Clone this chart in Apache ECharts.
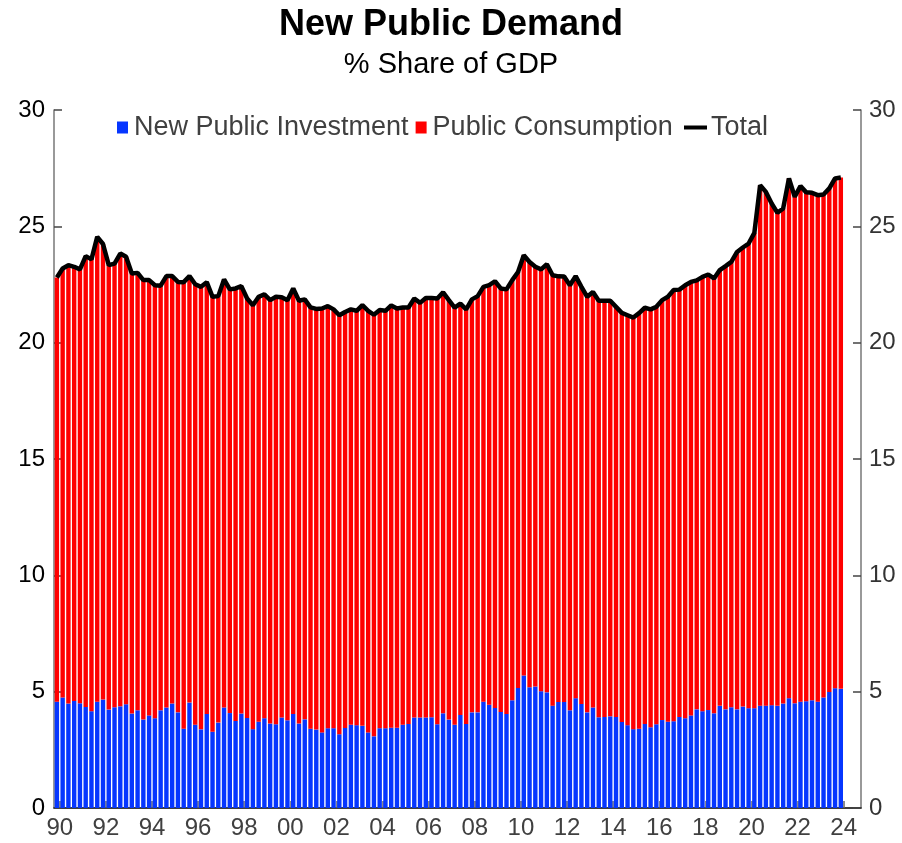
<!DOCTYPE html>
<html>
<head>
<meta charset="utf-8">
<script src="https://cdn.jsdelivr.net/npm/echarts@6/dist/echarts.min.js"></script>
<style>
  html, body { margin: 0; padding: 0; background: #fff; }
  #chart { width: 902px; height: 843px; }
</style>
</head>
<body>
<div id="chart"></div>
<script>
// quarterly data, first bar 1989Q4, last bar 2023Q4
const firstYear = 1989
const firstQuarter = 4
const slots = 140 // axis runs on to 2024Q3

// New public investment, % of GDP
const investment = [
  4.57, 4.75, 4.49, 4.60, 4.50, 4.34, 4.16, 4.57, 4.66, 4.23,
  4.33, 4.37, 4.46, 4.06, 4.20, 3.80, 3.98, 3.86, 4.20, 4.32,
  4.49, 4.11, 3.41, 4.53, 3.58, 3.38, 4.04, 3.28, 3.67, 4.32,
  4.08, 3.74, 4.06, 3.87, 3.39, 3.71, 3.86, 3.63, 3.60, 3.89,
  3.77, 4.04, 3.63, 3.81, 3.41, 3.37, 3.25, 3.43, 3.43, 3.17,
  3.44, 3.58, 3.56, 3.53, 3.25, 3.08, 3.43, 3.43, 3.45, 3.45,
  3.58, 3.61, 3.89, 3.89, 3.89, 3.90, 3.60, 4.07, 3.80, 3.58,
  4.00, 3.61, 4.11, 4.11, 4.57, 4.44, 4.30, 4.13, 4.04, 4.63,
  5.16, 5.70, 5.19, 5.22, 5.02, 4.97, 4.40, 4.56, 4.56, 4.20,
  4.72, 4.47, 4.11, 4.32, 3.90, 3.91, 3.94, 3.91, 3.70, 3.56,
  3.39, 3.41, 3.61, 3.47, 3.60, 3.78, 3.71, 3.73, 3.91, 3.86,
  3.98, 4.24, 4.16, 4.21, 4.07, 4.39, 4.24, 4.33, 4.24, 4.36,
  4.29, 4.29, 4.40, 4.40, 4.42, 4.39, 4.49, 4.72, 4.50, 4.57,
  4.59, 4.63, 4.57, 4.75, 4.99, 5.15, 5.12
]

// Public consumption, % of GDP
const consumption = [
  18.23, 18.44, 18.84, 18.66, 18.65, 19.38, 19.42, 19.98, 19.58, 19.10,
  19.07, 19.46, 19.23, 18.91, 18.80, 18.89, 18.71, 18.61, 18.25, 18.54,
  18.37, 18.50, 19.19, 18.33, 18.93, 19.02, 18.56, 18.69, 18.33, 18.40,
  18.21, 18.59, 18.37, 18.03, 18.22, 18.26, 18.22, 18.20, 18.37, 18.06,
  18.05, 18.29, 18.17, 18.05, 18.11, 18.08, 18.22, 18.14, 18.00, 18.01,
  17.88, 17.85, 17.81, 18.08, 18.12, 18.12, 17.97, 17.94, 18.15, 18.02,
  17.93, 17.90, 18.01, 17.82, 18.03, 18.02, 18.30, 18.09, 18.03, 17.93,
  17.68, 17.82, 17.75, 17.89, 17.83, 18.03, 18.34, 18.20, 18.25, 18.06,
  17.88, 18.06, 18.28, 18.04, 18.13, 18.40, 18.50, 18.29, 18.28, 18.27,
  18.14, 17.93, 17.86, 17.86, 17.90, 17.89, 17.86, 17.63, 17.58, 17.62,
  17.69, 17.86, 17.89, 17.96, 17.94, 18.05, 18.26, 18.53, 18.37, 18.61,
  18.63, 18.44, 18.67, 18.72, 18.69, 18.73, 19.05, 19.14, 19.66, 19.73,
  19.97, 20.43, 22.37, 22.08, 21.56, 21.19, 21.28, 22.34, 21.77, 22.16,
  21.87, 21.81, 21.77, 21.62, 21.64, 21.91, 21.98
]

const tickYears = [1990, 1992, 1994, 1996, 1998, 2000, 2002, 2004, 2006,
  2008, 2010, 2012, 2014, 2016, 2018, 2020, 2022, 2024]

const quarters = []
for (let i = 0; i < slots; i++) {
  const q = firstQuarter - 1 + i
  quarters.push((firstYear + Math.floor(q / 4)) + 'Q' + (q % 4 + 1))
}
const total = investment.map((v, i) => +(v + consumption[i]).toFixed(2))

// tick positions on the helper axis: boundary before Q1 of each year
const tickPos = tickYears.map(y => (y - firstYear) * 4 - (firstQuarter - 1))

const font = 'Arial, "Liberation Sans", sans-serif'

let myChart = echarts.init(document.getElementById('chart'))

const option = {
  animation: false,
  title: [
    { text: 'New Public Demand', left: 'center', top: 2,
      textStyle: { fontFamily: font, fontSize: 36, fontWeight: 'bold', color: '#000' } },
    { text: '% Share of GDP', left: 'center', top: 45,
      textStyle: { fontFamily: font, fontSize: 29, fontWeight: 'normal', color: '#000' } }
  ],
  legend: [
    {
      data: [
        { name: 'New Public Investment', icon: 'rect' },
        { name: 'Public Consumption', icon: 'rect' }
      ],
      left: 112, top: 109,
      itemWidth: 11, itemHeight: 12, itemGap: 7,
      textStyle: { fontFamily: font, fontSize: 27, color: '#404040', padding: [0, 0, 0, 1] }
    },
    {
      data: [{ name: 'Total', icon: 'rect' }],
      left: 679, top: 109,
      itemWidth: 23, itemHeight: 4,
      textStyle: { fontFamily: font, fontSize: 27, color: '#404040', padding: [0, 0, 0, -1] }
    }
  ],
  grid: { left: 54, right: 41, top: 110, bottom: 35 },
  xAxis: [
    {
      type: 'category',
      data: quarters,
      boundaryGap: true,
      axisLine: { show: true, lineStyle: { color: '#000', width: 1.5 } },
      axisTick: { show: false },
      axisLabel: { show: false },
      splitLine: { show: false }
    },
    {
      // helper axis for year ticks and labels
      type: 'value',
      position: 'bottom',
      min: 0,
      max: slots,
      axisLine: { show: false },
      axisTick: { show: true, inside: true, length: 7, customValues: tickPos,
        lineStyle: { color: '#666', width: 1.5 } },
      axisLabel: { customValues: tickPos, margin: 8, fontFamily: font, fontSize: 24, color: '#404040',
        formatter: v => String(tickYears[tickPos.indexOf(v)]).slice(2) },
      splitLine: { show: false }
    }
  ],
  yAxis: [
    {
      type: 'value', min: 0, max: 30, interval: 5, position: 'left',
      axisLine: { show: true, lineStyle: { color: '#777', width: 1.5 } },
      axisTick: { show: true, inside: true, length: 8, lineStyle: { color: '#444', width: 1.5 } },
      axisLabel: { margin: 9, fontFamily: font, fontSize: 24, color: '#000' },
      splitLine: { show: false }
    },
    {
      type: 'value', min: 0, max: 30, interval: 5, position: 'right',
      axisLine: { show: true, lineStyle: { color: '#777', width: 1.5 } },
      axisTick: { show: true, inside: true, length: 8, lineStyle: { color: '#444', width: 1.5 } },
      axisLabel: { margin: 8, fontFamily: font, fontSize: 24, color: '#333' },
      splitLine: { show: false }
    }
  ],
  series: [
    {
      name: 'New Public Investment', type: 'bar', stack: 'gdp',
      barWidth: 4.4,
      itemStyle: { color: '#0636ff' },
      data: investment
    },
    {
      name: 'Public Consumption', type: 'bar', stack: 'gdp',
      barWidth: 4.4,
      itemStyle: { color: '#ff0000' },
      data: consumption
    },
    {
      name: 'Total', type: 'line', symbol: 'none', z: 5,
      itemStyle: { color: '#000' },
      lineStyle: { color: '#000', width: 4.5 },
      data: total
    }
  ]
}

myChart.setOption(option)
window.onresize = function () {
  myChart.resize()
}
</script>
</body>
</html>
